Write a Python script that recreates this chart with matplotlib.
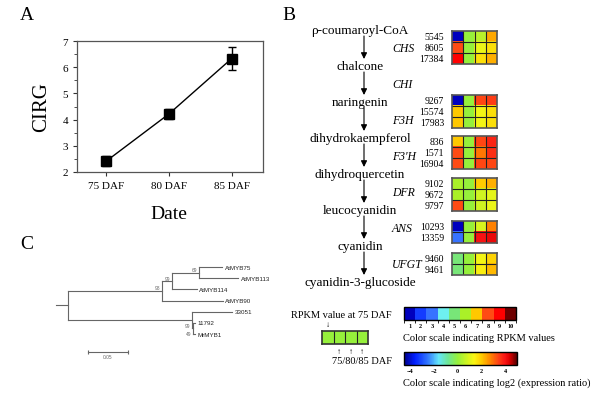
import numpy as np
import matplotlib
matplotlib.use('Agg')
import matplotlib.pyplot as plt
from matplotlib.colors import ListedColormap, LinearSegmentedColormap, BoundaryNorm, Normalize
from matplotlib.cm import ScalarMappable

plt.rcParams['font.family'] = ['Liberation Serif', 'DejaVu Serif']

# ---------------------
# Data
# ---------------------
# Panel A
stages = ['75 DAF', '80 DAF', '85 DAF']
cirg = [2.42, 4.22, 6.33]
cirg_err = [0.2, 0.2, 0.44]

# Panel B - pathway
compounds = ['\u03c1-coumaroyl-CoA', 'chalcone', 'naringenin', 'dihydrokaempferol',
             'dihydroquercetin', 'leucocyanidin', 'cyanidin', 'cyanidin-3-glucoside']
enzymes = ['CHS', 'CHI', 'F3H', "F3'H", 'DFR', 'ANS', 'UFGT']

# heatmap groups (CHI has none)
hm_enzymes = ['CHS', 'F3H', "F3'H", 'DFR', 'ANS', 'UFGT']
genes = [['5545', '8605', '17384'], ['9267', '15574', '17983'], ['836', '1571', '16904'],
         ['9102', '9672', '9797'], ['10293', '13359'], ['9460', '9461']]
rpkm_75 = [[1, 8, 9], [1, 7, 7], [7, 8, 8], [6, 6, 8], [1, 3], [5, 5]]
ratio_75 = [[0, 0, 0], [0, 0, 0], [0, 0, 0], [0, 0, 0], [0, 0], [0, 0]]
ratio_80 = [[0.5, 1.2, 1.7], [3.4, 1.3, 1.3], [3.4, 2.9, 3.4], [2.0, 0.8, 0.8], [0.9, 4.0], [1.3, 1.5]]
ratio_85 = [[2.4, 1.7, 2.3], [3.5, 1.7, 1.7], [3.8, 3.7, 3.4], [2.3, 1.1, 1.2], [2.8, 4.2], [1.9, 2.2]]

rpkm_ticks = list(range(1, 11))
log2_ticks = [-4, -2, 0, 2, 4]

# Panel C - tree: (name, branch length, bootstrap, children)
tree = ('', 0.015, None, [
    ('', 0.1175, '98', [
        ('', 0.0125, '99', [
            ('', 0.034, '69', [
                ('AtMYB75', 0.029, None, []),
                ('AtMYB113', 0.049, None, []),
            ]),
            ('AtMYB114', 0.031, None, []),
        ]),
        ('AtMYB90', 0.076, None, []),
    ]),
    ('', 0.155, '99', [
        ('33051', 0.05, None, []),
        ('', 0.001, '49', [
            ('11792', 0.0025, None, []),
            ('MrMYB1', 0.0025, None, []),
        ]),
    ]),
])
scale_len = 0.05

# ---------------------
# Colours
# ---------------------
rpkm_colors = np.array([(0, 0, 190), (20, 60, 255), (55, 115, 255), (110, 240, 240),
                        (120, 230, 120), (170, 240, 40), (255, 200, 0), (255, 75, 20),
                        (255, 0, 0), (110, 0, 0)]) / 255
rpkm_cmap = ListedColormap(rpkm_colors)
rpkm_norm = BoundaryNorm(np.arange(0.5, 11, 1), 10)

lo, hi = -4.5, 5.0
log_nodes = [(-4.5, (0, 0, 140)), (-3.6, (0, 30, 255)), (-2.5, (50, 120, 255)),
             (-1.6, (100, 230, 250)), (-0.8, (110, 230, 150)), (0.0, (150, 240, 60)),
             (0.9, (215, 245, 30)), (1.4, (250, 245, 20)), (2.0, (255, 205, 0)),
             (2.8, (255, 130, 0)), (3.4, (255, 70, 20)), (4.0, (250, 20, 20)),
             (4.4, (220, 0, 0)), (5.0, (90, 0, 0))]
log_cmap = LinearSegmentedColormap.from_list(
    'log2', [((v - lo) / (hi - lo), np.array(c) / 255) for v, c in log_nodes])
log_norm = Normalize(lo, hi)

# ---------------------
# Figure
# ---------------------
W, H = 600, 402
fig = plt.figure(figsize=(6, 4.02), dpi=100)


def px_axes(x0, y0, x1, y1):
    return fig.add_axes([x0 / W, 1 - y1 / H, (x1 - x0) / W, (y1 - y0) / H])


ov = fig.add_axes([0, 0, 1, 1])
ov.set_xlim(0, W)
ov.set_ylim(H, 0)
ov.axis('off')

# panel letters
for lab, x, y in [('A', 27, 15), ('B', 289, 15), ('C', 27, 245)]:
    ov.text(x, y, lab, fontsize=14, ha='center', va='center')

# ---- Panel A ----
ax = px_axes(77, 42, 263, 173)
ax.errorbar(range(len(stages)), cirg, yerr=cirg_err, fmt='s-', color='k', ms=7,
            lw=1, elinewidth=1, capsize=3, capthick=1)
ax.set_xlim(-0.47, 2.5)
ax.set_ylim(2, 7)
ax.set_xticks(range(len(stages)))
ax.set_xticklabels(stages)
ax.set_yticks(range(2, 8))
ax.set_yticks(np.arange(2.5, 7, 1), minor=True)
ax.tick_params(labelsize=8, length=3, width=0.8, colors='#333', labelcolor='k')
ax.tick_params(which='minor', length=2, width=0.6, colors='#333')
for s in ax.spines.values():
    s.set_color('#555')
    s.set_linewidth(0.9)
ov.text(41.5, 107, 'CIRG', fontsize=15, rotation=90, ha='center', va='center')
ov.text(168.5, 215, 'Date', fontsize=14, ha='center', va='center')

# ---- Panel B pathway ----
comp_y = [31 + 36 * i for i in range(len(compounds))]
for i, name in enumerate(compounds):
    ov.text(360, comp_y[i], name, fontsize=9.5, ha='center', va='center')
    if i < len(compounds) - 1:
        ov.annotate('', xy=(364, comp_y[i + 1] - 7), xytext=(364, comp_y[i] + 6),
                    arrowprops=dict(arrowstyle='-|>', color='k', lw=0.8,
                                    mutation_scale=9, shrinkA=0, shrinkB=0))
        ov.text(392, (comp_y[i] + comp_y[i + 1]) / 2, enzymes[i], fontsize=8.5,
                style='italic', ha='left', va='center')

# heatmaps
box_tops = [32, 96, 137, 179, 222, 254]
cw, ch = 11.25, 11.1
for g in range(len(hm_enzymes)):
    n = len(genes[g])
    rgb = np.zeros((n, 4, 4))
    for r in range(n):
        rgb[r, 0] = rpkm_cmap(rpkm_norm(rpkm_75[g][r]))
        rgb[r, 1] = log_cmap(log_norm(ratio_75[g][r]))
        rgb[r, 2] = log_cmap(log_norm(ratio_80[g][r]))
        rgb[r, 3] = log_cmap(log_norm(ratio_85[g][r]))
    top = box_tops[g]
    hax = px_axes(452, top, 452 + 4 * cw, top + n * ch)
    hax.imshow(rgb, aspect='auto', interpolation='nearest')
    for k in range(1, 4):
        hax.axvline(k - 0.5, color='#222', lw=0.8)
    for k in range(1, n):
        hax.axhline(k - 0.5, color='#222', lw=0.8)
    hax.set_xticks([])
    hax.set_yticks([])
    for s in hax.spines.values():
        s.set_color('#555')
        s.set_linewidth(1.2)
    for r in range(n):
        ov.text(444, top + (r + 0.5) * ch, genes[g][r], fontsize=7, ha='right', va='center')

# legend box
ov.text(392, 316, 'RPKM value at 75 DAF', fontsize=7.5, ha='right', va='center')
ov.text(328, 325, '\u2193', fontsize=6, ha='center', va='center')
lax = px_axes(322, 332, 368, 345)
lax.imshow(log_cmap(log_norm(np.zeros((1, 4)))), aspect='auto', interpolation='nearest')
for k in range(1, 4):
    lax.axvline(k - 0.5, color='#222', lw=0.8)
lax.set_xticks([])
lax.set_yticks([])
for s in lax.spines.values():
    s.set_color('#333')
    s.set_linewidth(1.2)
for x in [339, 351, 362]:
    ov.text(x, 352, '\u2191', fontsize=6, ha='center', va='center')
ov.text(392, 362, '75/80/85 DAF', fontsize=7.5, ha='right', va='center')

# colour bars
cax1 = px_axes(404, 308, 516, 321)
cb1 = fig.colorbar(ScalarMappable(norm=rpkm_norm, cmap=rpkm_cmap), cax=cax1,
                   orientation='horizontal', ticks=rpkm_ticks)
cb1.ax.tick_params(length=0, pad=2, labelsize=4.5)
for t in cb1.ax.get_xticklabels():
    t.set_fontweight('bold')
cb1.outline.set_linewidth(1)
ov.text(403, 339, 'Color scale indicating RPKM values', fontsize=7.5, ha='left', va='center')

cax2 = px_axes(404, 353, 517, 366)
cb2 = fig.colorbar(ScalarMappable(norm=log_norm, cmap=log_cmap), cax=cax2,
                   orientation='horizontal', ticks=log2_ticks)
cb2.ax.tick_params(length=0, pad=2, labelsize=4.5)
for t in cb2.ax.get_xticklabels():
    t.set_fontweight('bold')
cb2.outline.set_linewidth(1)
ov.text(403, 383, 'Color scale indicating log2 (expression ratio)', fontsize=7.5,
        ha='left', va='center')

# ---- Panel C tree ----
tax = px_axes(40, 255, 290, 365)
tax.set_xlim((40 - 68) / 800, (290 - 68) / 800)
tax.set_ylim((365 - 268) / 11.17, (255 - 268) / 11.17)
tax.axis('off')
leaf_count = [0]
tree_color = '#666'
sans = ['Liberation Sans', 'DejaVu Sans']


def draw(node, x_parent):
    name, blen, boot, kids = node
    x = x_parent + blen
    if kids:
        ys = [draw(k, x) for k in kids]
        y = (ys[0] + ys[-1]) / 2
        tax.plot([x, x], [ys[0], ys[-1]], color=tree_color, lw=0.8)
        if boot:
            below = y > 4
            tax.text(x - 0.002, y + (0.45 if below else -0.25), boot, fontsize=3.5,
                     color='#666', ha='right', va='center', family=sans)
    else:
        y = leaf_count[0]
        leaf_count[0] += 1
        tax.text(x + 0.003, y, name, fontsize=4.5, ha='left', va='center',
                 color='#222', family=sans)
    tax.plot([x_parent, x], [y, y], color=tree_color, lw=0.8)
    return y


draw(tree, -tree[1])
sb_y = 7.6
tax.plot([0.025, 0.025 + scale_len], [sb_y, sb_y], color=tree_color, lw=0.8,
         marker='|', ms=3, mew=0.8)
tax.text(0.025 + scale_len / 2, sb_y + 0.45, '%.2f' % scale_len, fontsize=3.5,
         color='#666', ha='center', va='center', family=sans)

plt.savefig('out.png', dpi=100)
